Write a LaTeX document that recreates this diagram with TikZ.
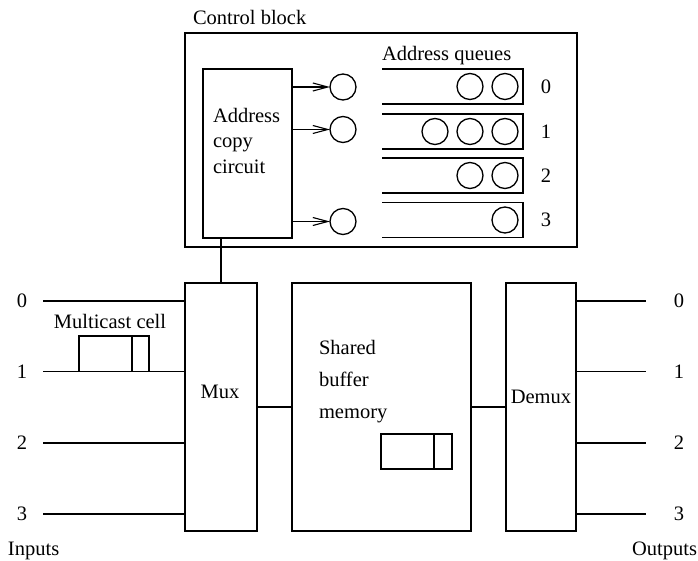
\documentclass[tikz,border=0pt]{standalone}
\usepackage{fontspec}
\setmainfont{Liberation Serif}
\usetikzlibrary{arrows.meta}
\begin{document}
\begin{tikzpicture}[x=1pt, y=-1pt, line width=1.3pt,
  lbl/.style={font=\fontsize{20.5}{25.5}\selectfont, inner sep=0pt, outer sep=0pt},
  box/.style={draw, inner sep=0pt, outer sep=0pt},
  dot/.style={draw, circle, minimum size=26pt, inner sep=0pt, outer sep=0pt},
  feed/.style={-{Straight Barb[length=15pt, width=8pt, line width=1.1pt]}}]
\useasboundingbox (0,0) rectangle (698,561);

% control block with the address copy circuit
\node[box, minimum width=392pt, minimum height=214pt] (ctrl) at (381,140) {};
\node[lbl, anchor=base west] (ctrltxt) at (193,25) {Control block};
\node[box, minimum width=89pt, minimum height=169pt] (copy) at (247.5,153.5) {};
\node[lbl, anchor=north west, align=left] (copytxt) at (213,108) {Address\\copy\\circuit};

% freshly copied addresses
\node[dot] (f0) at (343,87) {};
\node[dot] (f1) at (343,129.5) {};
\node[dot] (f3) at (343,221.5) {};
\draw[feed] (copy.east |- f0) -- (f0);
\draw[feed] (copy.east |- f1) -- (f1);
\draw[feed] (copy.east |- f3) -- (f3);

% address queues, open on the left
\node[lbl, anchor=base west] (aqtxt) at (382,61) {Address queues};
\foreach \i/\y in {0/86.5, 1/131.5, 2/175.5, 3/220} {
  \draw (382,\y-17.5) -- (523,\y-17.5) -- (523,\y+17.5) -- (382,\y+17.5);
  \node[lbl] (q\i) at (546,\y) {\i};
}
\node[dot] (a01) at (470,86.5) {};
\node[dot] (a02) at (505,86.5) {};
\node[dot] (a10) at (435,131.5) {};
\node[dot] (a11) at (470,131.5) {};
\node[dot] (a12) at (505,131.5) {};
\node[dot] (a21) at (470,175.5) {};
\node[dot] (a22) at (505,175.5) {};
\node[dot] (a32) at (505,220) {};

% data path
\node[box, minimum width=72pt, minimum height=248pt] (mux) at (221,407) {};
\node[lbl] (muxtxt) at (220,392) {Mux};
\node[box, minimum width=179pt, minimum height=248pt] (buf) at (381.5,407) {};
\node[lbl, anchor=north west, align=left, font=\fontsize{20.5}{32}\selectfont] (buftxt) at (319,340) {Shared\\buffer\\memory};
\node[box, minimum width=70pt, minimum height=248pt] (demux) at (541,407) {};
\node[lbl] (demuxtxt) at (541,397) {Demux};

\draw (copy.south -| mux.north) -- (mux.north);
\draw (mux.east |- buf.west) -- (buf.west);
\draw (buf.east) -- (demux.west);

% cell stored in the buffer
\draw (381,434) rectangle (452,469);
\draw (434,434) -- (434,469);

% input and output ports
\foreach \i/\y in {0/301, 1/371.5, 2/443, 3/514} {
  \node[lbl] (in\i) at (22,\y) {\i};
  \draw ([xshift=16pt]in\i.east) -- (in\i -| mux.west);
  \node[lbl] (out\i) at (679,\y) {\i};
  \draw (out\i -| demux.east) -- ([xshift=-28pt]out\i.west);
}
\node[lbl, anchor=base west] (intxt) at (8,555) {Inputs};
\node[lbl, anchor=base east] (outtxt) at (697,555) {Outputs};

% multicast cell waiting on input 1
\node[lbl] (mctxt) at (110,321) {Multicast cell};
\draw (79,371.5) rectangle (149,336);
\draw (132,336) -- (132,371.5);
\end{tikzpicture}
\end{document}
